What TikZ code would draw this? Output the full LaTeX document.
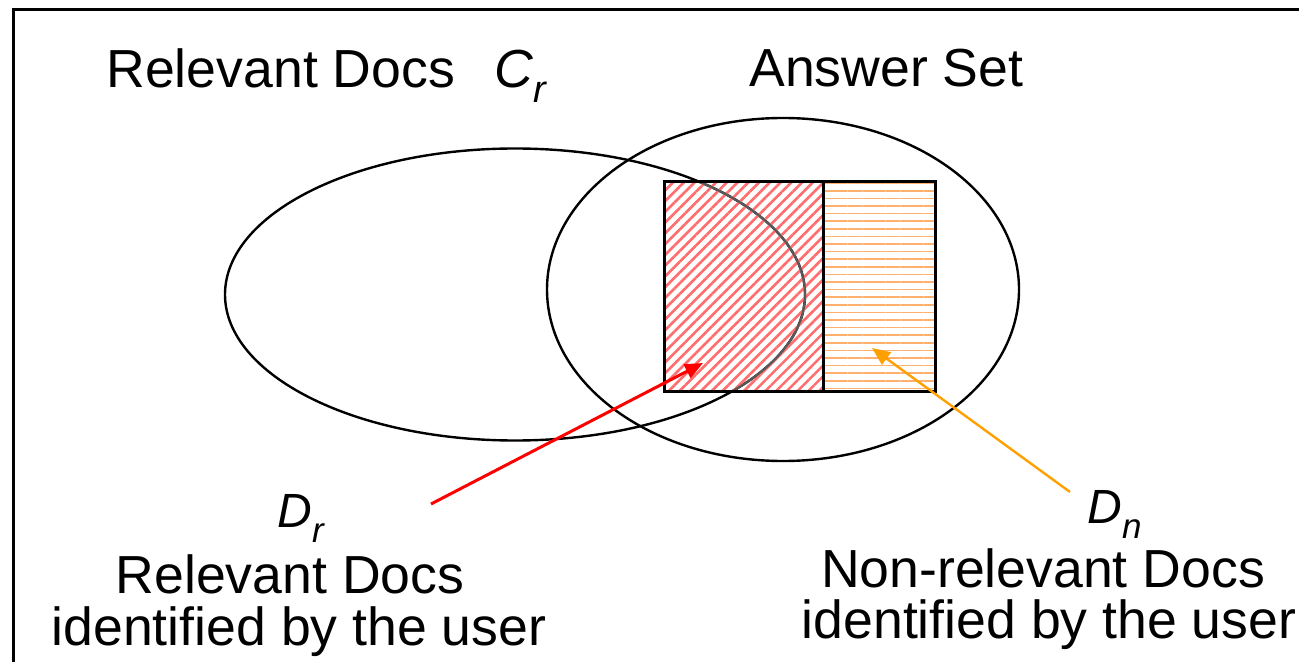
\documentclass[tikz,border=0pt]{standalone}
\usepackage{fontspec}
\setmainfont{Liberation Sans}
\usetikzlibrary{shapes.geometric,patterns.meta,arrows.meta}
\definecolor{arrowOrange}{RGB}{255,160,0}
\definecolor{hatchRed}{RGB}{255,110,110}
\definecolor{hatchOrange}{RGB}{255,175,110}
\newcommand\lowsub[2]{\raisebox{-7.5pt}{\fontsize{#1}{#1}\selectfont\itshape #2}}
\begin{document}
\begin{tikzpicture}[x=0.5pt,y=-0.5pt,
  lbl/.style={inner sep=0pt,anchor=base west,font=\fontsize{26.8pt}{32pt}\selectfont},
  sym/.style={inner sep=0pt,anchor=base west,font=\fontsize{24pt}{28pt}\selectfont\itshape},
  setellipse/.style={ellipse,draw,line width=1.2pt,inner sep=0pt},
  docbox/.style={rectangle,draw,line width=1.5pt,inner sep=0pt,outer sep=0pt,minimum height=104.5pt},
  pointer/.style={line width=1.5pt,-{Triangle[length=9pt,width=7.5pt]}}]
\useasboundingbox (0,0) rectangle (1299,662);
\clip (0,0) rectangle (1299,662);
\draw[line width=1.5pt] (13,10) rectangle (1340,700);
% sets
\node[setellipse,minimum width=290pt,minimum height=146pt] (rel) at (515,294.5) {};
\node[setellipse,minimum width=236pt,minimum height=171.5pt] (ans) at (783,289.5) {};
% feedback boxes
\node[docbox,minimum width=79.5pt,pattern={Lines[angle=45,distance=3.8pt,line width=1.3pt]},pattern color=hatchRed] (dr) at (743.5,286.5) {};
\node[docbox,minimum width=56pt,pattern={Lines[angle=0,distance=3.8pt,line width=0.8pt]},pattern color=hatchOrange] (dn) at (879,286.5) {};
% edge of the relevant set seen through the hatching
\begin{scope}
  \clip (dr.south west) rectangle (dr.north east);
  \draw[black!65,line width=1.1pt] (rel.center) ellipse [x radius=145pt,y radius=73pt];
\end{scope}
\draw[line width=1.5pt] (dr.south west) rectangle (dr.north east);
% titles
\node[lbl] (rtitle) at (106,88) {Relevant Docs};
\node[lbl,font=\fontsize{26.8pt}{32pt}\selectfont\itshape] (crlbl) at (494,88) {C\lowsub{19pt}{r}};
\node[lbl] (atitle) at (749,87) {Answer Set};
% bottom labels
\node[sym] (drsym) at (277,527) {D\lowsub{17.5pt}{r}};
\node[lbl,anchor=base] (drl1) at (290,593) {Relevant Docs};
\node[lbl,anchor=base] (drl2) at (299,645) {identified by the user};
\node[sym] (dnsym) at (1087,523) {D\lowsub{17.5pt}{n}};
\node[lbl,anchor=base] (dnl1) at (1043,587) {Non-relevant Docs};
\node[lbl,anchor=base] (dnl2) at (1049,638) {identified by the user};
% pointers
\coordinate (drtail) at (431,504);
\coordinate (drtip) at (703,363);
\coordinate (dntail) at (1070,492);
\coordinate (dntip) at (872,348);
\draw[pointer,red] (drtail) -- (drtip);
\draw[pointer,arrowOrange,line width=1.2pt] (dntail) -- (dntip);
\end{tikzpicture}
\end{document}
